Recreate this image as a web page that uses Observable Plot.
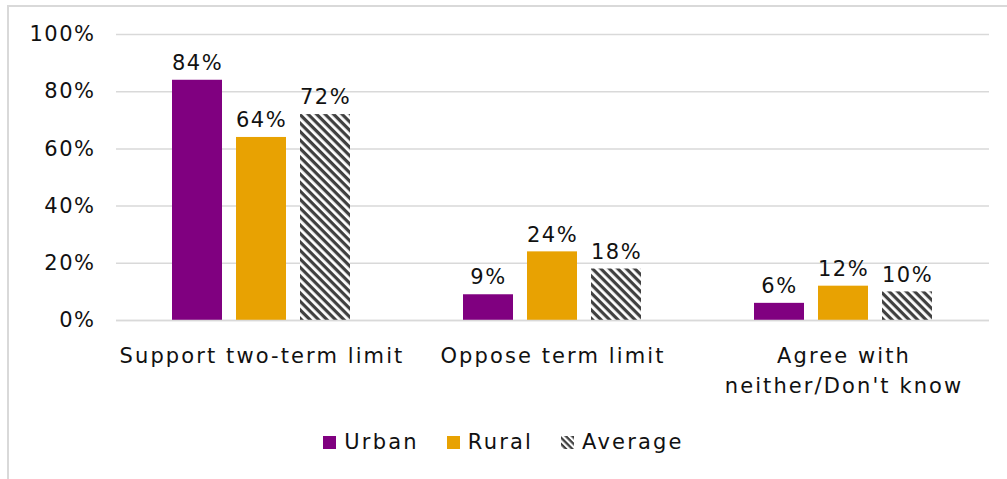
<!DOCTYPE html>
<html>
<head>
<meta charset="utf-8">
<script src="https://cdn.jsdelivr.net/npm/d3@7"></script>
<script src="https://cdn.jsdelivr.net/npm/@observablehq/plot@0.6"></script>
<style>
  html, body { margin: 0; padding: 0; background: #fff; }
  body { width: 1007px; height: 479px; position: relative; overflow: hidden; font-family: "DejaVu Sans", sans-serif; }
  #frame { position: absolute; left: 7px; top: 5px; width: 1100px; height: 600px; border-left: 2px solid #d9d9d9; border-top: 2px solid #d9d9d9; }
  #chart { position: absolute; left: 0; top: 0; }
  #chart svg text { letter-spacing: 1.5px; }
  #chart svg g.cat text { letter-spacing: 2.1px; }
  #legend { position: absolute; left: 0; width: 1007px; top: 430px; display: flex; justify-content: center; gap: 28px; font-size: 21px; letter-spacing: 2.2px; color: #111; }
  .item { display: flex; align-items: center; gap: 8px; }
</style>
</head>
<body>
<div id="frame"></div>
<div id="chart"></div>
<div id="legend"></div>
<script>
const categories = ["Support two-term limit", "Oppose term limit", "Agree with neither/Don't know"];
const seriesNames = ["Urban", "Rural", "Average"];
const urban = [84, 9, 6];
const rural = [64, 24, 12];
const average = [72, 18, 10];
const yTicks = [0, 20, 40, 60, 80, 100];
const colors = ["#800080", "#E8A202", "url(#avgpat)"];

const values = [urban, rural, average];
const data = [];
categories.forEach((c, i) => seriesNames.forEach((s, j) => data.push({category: c, series: s, value: values[j][i]})));

const fontFamily = "'DejaVu Sans', sans-serif";

const svg = Plot.plot({
  width: 1007,
  height: 410,
  marginTop: 34,
  marginBottom: 90,
  marginLeft: 115,
  marginRight: 17,
  style: {fontFamily, fontSize: "21px", color: "#111", background: "transparent"},
  fx: {domain: categories, paddingInner: 0, paddingOuter: 0, label: null, axis: null},
  x: {domain: seriesNames, paddingInner: 0.215, paddingOuter: 0.853, axis: null},
  y: {domain: [0, 100], ticks: yTicks, label: null},
  color: {domain: seriesNames, range: colors},
  marks: [
    Plot.gridY(yTicks, {stroke: "#d9d9d9", strokeOpacity: 1, strokeWidth: 1.5}),
    Plot.axisY(yTicks, {tickSize: 0, tickPadding: 21, tickFormat: d => d + "%", fontSize: 21}),
    Plot.axisFx({anchor: "bottom", tickSize: 0, tickPadding: 21, fontSize: 21, tickFormat: d => d.replace("with ", "with\n"), lineHeight: 1.43, className: "cat"}),
    Plot.barY(data, {fx: "category", x: "series", y: "value", fill: "series"}),
    Plot.ruleY([0], {stroke: "#d9d9d9", strokeWidth: 1.5}),
    Plot.text(data, {fx: "category", x: "series", y: "value", text: d => d.value + "%", dy: -17, fontSize: 21, fill: "#111"})
  ]
});

const ns = "http://www.w3.org/2000/svg";
const defs = document.createElementNS(ns, "defs");
defs.innerHTML = `<pattern id="avgpat" patternUnits="userSpaceOnUse" width="6" height="6" patternTransform="rotate(45)">
  <rect width="6" height="6" fill="#ffffff"/><rect width="6" height="3.2" fill="#404040"/></pattern>`;
svg.insertBefore(defs, svg.firstChild);
document.getElementById("chart").appendChild(svg);

const legend = document.getElementById("legend");
seriesNames.forEach((s, i) => {
  const item = document.createElement("div");
  item.className = "item";
  const sw = document.createElementNS(ns, "svg");
  sw.setAttribute("width", 13); sw.setAttribute("height", 13);
  sw.innerHTML = i === 2
    ? `<defs><pattern id="lp" patternUnits="userSpaceOnUse" width="4.5" height="4.5" patternTransform="rotate(45)"><rect width="4.5" height="4.5" fill="#fff"/><rect width="4.5" height="2.3" fill="#404040"/></pattern></defs><rect width="13" height="13" fill="url(#lp)"/>`
    : `<rect width="13" height="13" fill="${colors[i]}"/>`;
  const t = document.createElement("span");
  t.textContent = s;
  item.appendChild(sw); item.appendChild(t);
  legend.appendChild(item);
});
</script>
</body>
</html>
